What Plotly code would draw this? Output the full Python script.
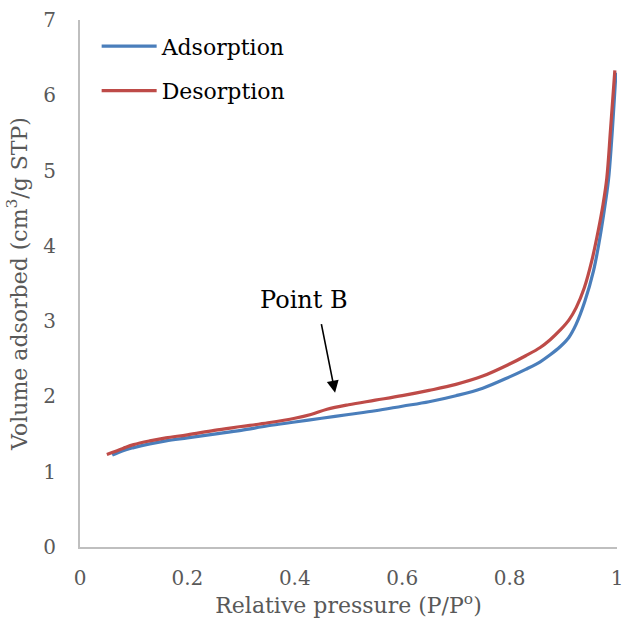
import plotly.graph_objects as go

ads_x = [0.06, 0.08, 0.1, 0.13, 0.16, 0.2, 0.25, 0.3, 0.35, 0.4, 0.45, 0.5, 0.55, 0.6, 0.65, 0.7,
         0.75, 0.8, 0.83, 0.857, 0.875, 0.894, 0.91, 0.924, 0.94, 0.956, 0.967, 0.976, 0.984, 0.99, 0.998]
ads_y = [1.22, 1.28, 1.32, 1.37, 1.41, 1.45, 1.50, 1.55, 1.61, 1.66, 1.71, 1.76, 1.81, 1.87, 1.93, 2.01,
         2.11, 2.26, 2.36, 2.46, 2.55, 2.66, 2.78, 2.96, 3.26, 3.66, 4.06, 4.46, 4.87, 5.4, 6.3]

des_x = [0.05, 0.08, 0.1, 0.13, 0.16, 0.2, 0.25, 0.3, 0.35, 0.4, 0.43, 0.46, 0.5, 0.55, 0.6, 0.65, 0.7,
         0.75, 0.8, 0.83, 0.857, 0.875, 0.894, 0.91, 0.924, 0.939, 0.953, 0.965, 0.974, 0.981, 0.988, 0.996]
des_y = [1.23, 1.31, 1.36, 1.41, 1.45, 1.49, 1.55, 1.60, 1.65, 1.71, 1.76, 1.83, 1.89, 1.95, 2.01, 2.08, 2.16,
         2.27, 2.43, 2.54, 2.65, 2.75, 2.88, 3.01, 3.18, 3.44, 3.80, 4.20, 4.55, 4.90, 5.55, 6.33]

x_ticks = [0, 0.2, 0.4, 0.6, 0.8, 1]
x_tick_labels = ["0", "0.2", "0.4", "0.6", "0.8", "1"]
y_ticks = [0, 1, 2, 3, 4, 5, 6, 7]

FONT = "DejaVu Serif"
GRAY = "#595959"

fig = go.Figure()
fig.add_trace(go.Scatter(x=ads_x, y=ads_y, mode="lines", name="Adsorption",
                         line=dict(color="#4A7EBB", width=3.2, shape="spline", smoothing=1.0),
                         legendgroup="a"))
fig.add_trace(go.Scatter(x=des_x, y=des_y, mode="lines", name="Desorption",
                         line=dict(color="#BE4B48", width=3.2, shape="spline", smoothing=1.0),
                         legendgroup="d"))

fig.add_annotation(x=0.475, y=2.05, ax=-14, ay=-70, xref="x", yref="y", text="",
                   showarrow=True, arrowhead=2, arrowsize=1.5, arrowwidth=1.6, arrowcolor="black")
fig.add_annotation(x=0.418, y=3.28, xref="x", yref="y", text="Point B", showarrow=False,
                   font=dict(family=FONT, size=24, color="black"))

fig.update_layout(
    width=627, height=637,
    margin=dict(l=80, r=10, t=20, b=90, autoexpand=False),
    paper_bgcolor="white", plot_bgcolor="white",
    font=dict(family=FONT, color=GRAY, size=20),
    showlegend=True,
    legend=dict(x=0.031, y=0.99, xanchor="left", yanchor="top", bgcolor="rgba(0,0,0,0)",
                font=dict(family=FONT, size=22, color="black"), itemwidth=55,
                traceorder="grouped", tracegroupgap=13),
    xaxis=dict(range=[0, 1], tickvals=x_ticks, ticktext=x_tick_labels, showgrid=False,
               zeroline=False, showline=True, linecolor="#BFBFBF", linewidth=2,
               ticks="", ticklabelstandoff=12, automargin=False,
               title=dict(text="Relative pressure (P/P<sup>o</sup>)", standoff=8,
                          font=dict(family=FONT, size=22, color=GRAY))),
    yaxis=dict(range=[0, 7], tickvals=y_ticks, showgrid=False, zeroline=False,
               showline=True, linecolor="#BFBFBF", linewidth=2,
               ticks="", ticklabelstandoff=18, automargin=False,
               title=dict(text="Volume adsorbed (cm<sup>3</sup>/g STP)", standoff=10,
                          font=dict(family=FONT, size=22, color=GRAY))),
)

fig.write_html("out.html")
